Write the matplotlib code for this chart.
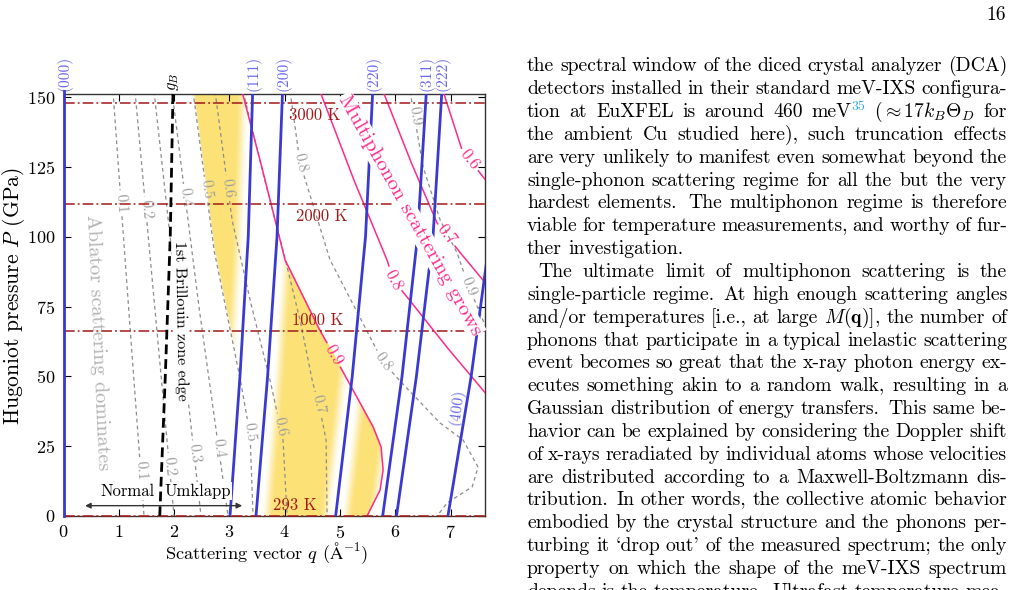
#!/usr/bin/env python3
import re

import numpy as np
import matplotlib
matplotlib.use("Agg")
import matplotlib.pyplot as plt
from matplotlib.transforms import blended_transform_factory

plt.rcParams["font.family"] = ["cmr10", "DejaVu Serif"]
plt.rcParams["mathtext.fontset"] = "cm"
plt.rcParams["axes.formatter.use_mathtext"] = True

W, H = 1024, 590
Q_MAX, P_MAX = 7.62, 151.1

# --- data -----------------------------------------------------------------
# Bragg lines, q (1/A) along the Hugoniot at pressures BRAGG_P (GPa)
BRAGG_P = [0, 50, 100, 152]
Q_000 = [0.0, 0.0, 0.0, 0.0]
Q_111 = [3.01, 3.19, 3.34, 3.42]
Q_200 = [3.48, 3.69, 3.86, 3.96]
Q_220 = [4.92, 5.22, 5.46, 5.59]
Q_311 = [5.77, 6.12, 6.40, 6.56]
Q_222 = [6.02, 6.38, 6.68, 6.84]
Q_400 = [6.95, 7.37, 7.71, 7.90]
Q_GB = [1.74, 1.84, 1.93, 1.98]
BRAGG_NAMES = ["(000)", "(111)", "(200)", "(220)", "(311)", "(222)", "(400)"]

# grey dashed contours (q, P)
G01_Q = [0.895, 1.166, 1.456]
G01_P = [152, 77.3, 0]
G02_Q = [1.293, 1.637, 1.998]
G02_P = [152, 77.3, 0]
G03_Q = [1.637, 2.052, 2.486]
G03_P = [152, 77.3, 0]
G04_Q = [1.962, 2.432, 2.975]
G04_P = [152, 77.3, 0]
G05_Q = [2.342, 2.722, 3.192, 3.373, 3.427]
G05_P = [152, 95.2, 49.4, 29.0, 0]
G06_Q = [2.740, 3.047, 3.373, 3.734, 3.969, 4.042]
G06_P = [152, 106.0, 77.3, 48.7, 27.2, 0]
G07_Q = [3.246, 3.590, 3.969, 4.277, 4.494, 4.638, 4.747, 4.765]
G07_P = [152, 123.9, 95.2, 70.2, 48.7, 38.0, 27.2, 0]
G08_Q = [4.096, 4.277, 4.819, 5.777, 6.085, 6.808, 7.224, 7.495, 7.387, 6.935, 6.754]
G08_P = [152, 126.4, 91.7, 55.1, 48.3, 33.3, 27.2, 17.5, 10.4, 4.7, 0]
G09_Q = [6.266, 6.501, 6.808, 7.116, 7.315, 7.658]
G09_P = [152, 125.0, 106.0, 94.2, 82.7, 66.6]

# pink contours (q, P)
M09_Q = [3.228, 3.553, 4.005, 4.602, 5.235, 5.597, 5.741, 5.778, 5.723, 5.488]
M09_P = [152, 127.5, 91.7, 67.7, 45.1, 31.9, 24.7, 16.5, 9.3, 0]
M08_Q = [4.638, 5.235, 5.850, 5.958, 6.212, 6.899, 7.658]
M08_P = [152, 121.0, 91.7, 84.5, 78.4, 61.2, 43.3]
M07_Q = [5.778, 6.266, 6.754, 7.134, 7.658]
M07_P = [152, 127.5, 104.9, 95.2, 82.7]
M06_Q = [6.863, 7.206, 7.658]
M06_P = [152, 131.0, 119.6]

# Hugoniot temperatures
T_NAMES = ["3000 K", "2000 K", "1000 K", "293 K"]
T_P = [147.8, 111.6, 66.4, 0.0]

PAGE_LINES = [
    "the spectral window of the diced crystal analyzer (DCA)",
    "detectors installed in their standard meV-IXS configura-",
    r"tion at EuXFEL is around 460 meV^35 ($\approx 17k_B\Theta_D$ for",
    "the ambient Cu studied here), such truncation effects",
    "are very unlikely to manifest even somewhat beyond the",
    "single-phonon scattering regime for all the but the very",
    "hardest elements. The multiphonon regime is therefore",
    "viable for temperature measurements, and worthy of fur-",
    "ther investigation.",
    "The ultimate limit of multiphonon scattering is the",
    "single-particle regime. At high enough scattering angles",
    r"and/or temperatures [i.e., at large $M(\mathbf{q})$], the number of",
    "phonons that participate in a typical inelastic scattering",
    "event becomes so great that the x-ray photon energy ex-",
    "ecutes something akin to a random walk, resulting in a",
    "Gaussian distribution of energy transfers. This same be-",
    "havior can be explained by considering the Doppler shift",
    "of x-rays reradiated by individual atoms whose velocities",
    "are distributed according to a Maxwell-Boltzmann dis-",
    "tribution. In other words, the collective atomic behavior",
    "embodied by the crystal structure and the phonons per-",
    "turbing it `drop out' of the measured spectrum; the only",
    "property on which the shape of the meV-IXS spectrum",
    "depends is the temperature. Ultrafast temperature mea-",
]
PARA_END = {8}
PARA_START = {9}

# --- styles ---------------------------------------------------------------
BLUE = "#3a3ad0"
BLUE_TXT = "#6b6be6"
PINK = "#ff2a8c"
GREY = "#8c8c8c"
GREY_TXT = "#9e9e9e"
RED = "#a31818"
YELLOW = (0.992, 0.886, 0.47)

fig = plt.figure(figsize=(W / 100, H / 100), dpi=100)
ax = fig.add_axes([63.5 / W, 1 - 516 / H, (485 - 63.5) / W, (516 - 94) / H])
ax.set_xlim(0, Q_MAX)
ax.set_ylim(0, P_MAX)
ax.set_xticks(range(8))
ax.set_yticks([0, 25, 50, 75, 100, 125, 150])
ax.tick_params(direction="in", top=True, right=True, length=5, width=0.8,
               labelsize=13, pad=6)
for s in ax.spines.values():
    s.set_color("#333333")
    s.set_linewidth(1.0)


def densify(pts, step=1.0):
    out = [pts[0]]
    for a, b in zip(pts[:-1], pts[1:]):
        n = max(int(np.hypot(*(b - a)) / step), 1)
        t = np.linspace(0, 1, n + 1)[1:]
        out.extend(a + (b - a) * t[:, None])
    return np.array(out)


def draw_contour(q, p, labels, color, txt_color, lw, ls, size, gap=13, z=2):
    dense = densify(ax.transData.transform(np.column_stack([q, p])))
    keep = np.ones(len(dense), bool)
    for txt, lq, lp in labels:
        target = ax.transData.transform((lq, lp))
        i = int(np.argmin(np.hypot(*(dense - target).T)))
        j0, j1 = max(i - 5, 0), min(i + 5, len(dense) - 1)
        d = dense[j1] - dense[j0]
        ang = np.degrees(np.arctan2(d[1], d[0]))
        if ang > 90:
            ang -= 180
        if ang <= -90:
            ang += 180
        keep &= np.hypot(*(dense - dense[i]).T) > gap
        cx, cy = ax.transData.inverted().transform(dense[i])
        ax.text(cx, cy, txt, color=txt_color, fontsize=size, rotation=ang,
                rotation_mode="anchor", ha="center", va="center", zorder=z + 0.1)
    xy = ax.transData.inverted().transform(dense)
    xy[~keep] = np.nan
    ax.plot(xy[:, 0], xy[:, 1], color=color, lw=lw, ls=ls, zorder=z)


# yellow single-phonon window, fading towards the Bragg peaks
qq = np.linspace(0, Q_MAX, 1000)
pp = np.linspace(0, P_MAX, 700)
Qg = qq[None, :]


def at_p(qs, ps):
    order = np.argsort(ps)
    return np.interp(pp, np.asarray(ps)[order], np.asarray(qs)[order])[:, None]


g05 = at_p(G05_Q, G05_P)
m09 = at_p(M09_Q, M09_P)
q111, q200 = at_p(Q_111, BRAGG_P), at_p(Q_200, BRAGG_P)
q220, q311 = at_p(Q_220, BRAGG_P), at_p(Q_311, BRAGG_P)
mask = ((Qg > g05) & (Qg < q111)) | ((Qg > q200) & (Qg < m09))
dist = np.minimum.reduce([np.abs(Qg - q) for q in (q111, q200, q220, q311)])
f = np.clip((dist - 0.07) / 0.24, 0, 1)
f = f * f * (3 - 2 * f)
rgba = np.zeros((len(pp), len(qq), 4))
rgba[..., :3] = YELLOW
rgba[..., 3] = np.where(mask, f, 0)
ax.imshow(rgba, extent=(0, Q_MAX, 0, P_MAX), origin="lower", aspect="auto",
          interpolation="bilinear", zorder=0.5)

dash = (0, (3, 2.6))
grey_sets = [
    (G01_Q, G01_P, [("0.1", 0.97, 112), ("0.1", 1.51, 16.5)]),
    (G02_Q, G02_P, [("0.2", 1.44, 109.6), ("0.2", 2.07, 18.3)]),
    (G03_Q, G03_P, [("0.3", 2.50, 22.9)]),
    (G04_Q, G04_P, [("0.4", 2.14, 114.2), ("0.4", 2.96, 24.7)]),
    (G05_Q, G05_P, [("0.5", 2.49, 116.7), ("0.5", 3.37, 30.1)]),
    (G06_Q, G06_P, [("0.6", 2.90, 117.4), ("0.6", 3.93, 32.2)]),
    (G07_Q, G07_P, [("0.7", 4.60, 39.7)]),
    (G08_Q, G08_P, [("0.8", 4.28, 126.4), ("0.8", 5.78, 55.1)]),
    (G09_Q, G09_P, [("0.9", 6.37, 143.2), ("0.9", 7.33, 82.0)]),
]
for q, p, labs in grey_sets:
    draw_contour(q, p, labs, GREY, GREY_TXT, 0.9, dash, 11, gap=13, z=2)

pink_sets = [
    (M09_Q, M09_P, [("0.9", 4.82, 57.0)]),
    (M08_Q, M08_P, [("0.8", 5.96, 84.5)]),
    (M07_Q, M07_P, [("0.7", 6.92, 100.6)]),
    (M06_Q, M06_P, [("0.6", 7.35, 127.5)]),
]
for q, p, labs in pink_sets:
    draw_contour(q, p, labs, PINK, PINK, 1.1, "-", 12, gap=14, z=3)

# temperature isotherms on the Hugoniot
for name, p, lq, lp in zip(T_NAMES, T_P, [4.55, 4.67, 4.60, 4.19],
                           [143.6, 107.2, 70.1, 3.9]):
    ax.plot([0, Q_MAX], [p, p], color=RED, lw=1.1, ls=(0, (7, 2, 1.2, 2)),
            zorder=4, clip_on=(p > 0))
    ax.text(lq, lp, name, color=RED, fontsize=12, ha="center", va="center",
            zorder=6)

# Bragg lines
top = blended_transform_factory(ax.transData, ax.transAxes)
for name, qs in zip(BRAGG_NAMES, [Q_000, Q_111, Q_200, Q_220, Q_311, Q_222, Q_400]):
    ax.plot(qs, BRAGG_P, color=BLUE, lw=2.0, zorder=5, clip_on=(name != "(000)"))
    if name == "(400)":
        ax.text(7.12, 39, name, color=BLUE_TXT, fontsize=11.5, rotation=82,
                ha="center", va="center", zorder=6)
    else:
        ax.text(np.interp(P_MAX, BRAGG_P, qs) + 0.01, 1.006, name, transform=top,
                color=BLUE_TXT, fontsize=11.2, rotation=90, ha="center", va="bottom")

# zone edge
ax.plot(Q_GB, BRAGG_P, color="black", lw=2.0, ls=(0, (3.5, 1.8)), zorder=5)
ax.text(np.interp(P_MAX, BRAGG_P, Q_GB), 1.006, r"$g_B$", transform=top,
        fontsize=12, rotation=90, ha="center", va="bottom")

# annotations
ax.text(6.266, 107.8, "Multiphonon scattering grows", color=PINK, fontsize=15,
        rotation=-60.5, rotation_mode="anchor", ha="center", va="center",
        zorder=7, bbox=dict(boxstyle="square,pad=0.05", fc="white", ec="none"))
ax.text(0.615, 62.3, "Ablator scattering dominates", color="#b2b2b2",
        fontsize=14.5, rotation=-87.5, rotation_mode="anchor", ha="center",
        va="center", zorder=7)
ax.text(2.116, 69.8, "1st Brillouin zone edge", color="black", fontsize=11.5,
        rotation=-89, rotation_mode="anchor", ha="center", va="center", zorder=7,
        bbox=dict(boxstyle="square,pad=0.05", fc="white", ec="none"))
ax.annotate("", xy=(0.39, 3.7), xytext=(3.23, 3.7),
            arrowprops=dict(arrowstyle="<|-|>", color="#333333", lw=1.0,
                            mutation_scale=8, shrinkA=0, shrinkB=0), zorder=7)
for txt, q in [("Normal", 1.16), ("Umklapp", 2.43)]:
    ax.text(q, 8.8, txt, fontsize=12, ha="center", va="center", zorder=7,
            bbox=dict(boxstyle="square,pad=0.08", fc="white", ec="none"))

fig.text(14 / W, 1 - 296 / H, r"Hugoniot pressure $P$ (GPa)", fontsize=15.5,
         rotation=90, ha="center", va="center")
fig.text(267 / W, 1 - 553 / H, r"Scattering vector $q$ ($\mathrm{\AA}^{-1}$)",
         fontsize=13.2, ha="center", va="center")

# --- page text on the right ------------------------------------------------
renderer = fig.canvas.get_renderer()
BODY = 14.2
X0, X1 = 527, 1007
BASE0, PITCH = 71.3, 22.85


def width(s, size):
    t = fig.text(0, 0, s, fontsize=size)
    w = t.get_window_extent(renderer).width
    t.remove()
    return w


def pieces(word):
    if word.startswith("meV^"):
        return [("meV", BODY, "black", 0), (word[4:], BODY * 0.7, "#2aa7e0", 7)]
    return [(word, BODY, "black", 0)]


space = width("a b", BODY) - width("ab", BODY)
for n, line in enumerate(PAGE_LINES):
    words = re.findall(r"(?:\$[^$]*\$|\S)+", line)
    parts = [pieces(w) for w in words]
    widths = [sum(width(s, sz) for s, sz, _, _ in ps) for ps in parts]
    x0 = X0 + (11 if n in PARA_START else 0)
    weights = [1.4 if w.endswith(".") and w != "i.e.," else 1.0 for w in words[:-1]]
    if n in PARA_END:
        gap_unit = space
    else:
        gap_unit = (X1 - x0 - sum(widths)) / sum(weights)
    y = BASE0 + n * PITCH
    x = x0
    for k, (ps, w) in enumerate(zip(parts, widths)):
        xx = x
        for s, sz, col, dy in ps:
            fig.text(xx / W, 1 - (y - dy) / H, s, fontsize=sz, color=col,
                     ha="left", va="baseline")
            xx += width(s, sz)
        if k < len(weights):
            x += w + gap_unit * weights[k]

fig.text(1006 / W, 1 - 20 / H, "16", fontsize=BODY, ha="right", va="baseline")

fig.savefig("out.png", dpi=100)
